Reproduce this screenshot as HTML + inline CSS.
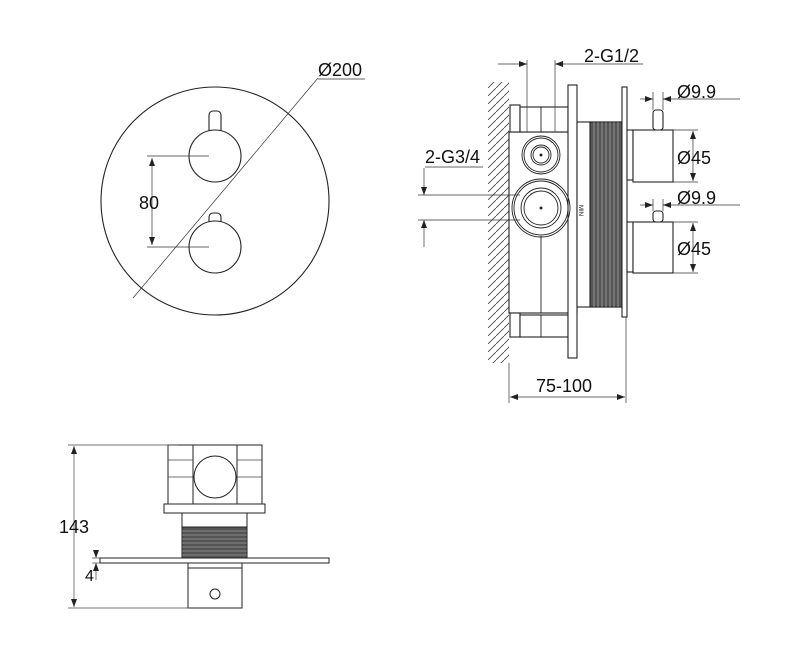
<!DOCTYPE html>
<html><head><style>body{margin:0;background:#fff}svg{display:block}text{font-family:"Liberation Sans",Arial,sans-serif;fill:#111}</style></head><body>
<svg width="800" height="650" viewBox="0 0 800 650" xmlns="http://www.w3.org/2000/svg">
<defs>
<pattern id="h" width="8" height="8" patternUnits="userSpaceOnUse"><path d="M0 8 L8 0" stroke="#444" stroke-width="0.8"/></pattern>
<marker id="a" markerWidth="8" markerHeight="6" refX="8" refY="3" orient="auto-start-reverse" markerUnits="userSpaceOnUse"><path d="M0 0 L8 3 L0 6z" fill="#222"/></marker>
</defs>
<g fill="none" stroke="#222" stroke-width="1.1">
<circle cx="215" cy="201" r="114"/>
<rect x="209" y="111" width="12" height="28" rx="4"/>
<circle cx="215" cy="156" r="26" fill="#fff"/>
<rect x="209" y="213" width="12" height="12" rx="4"/>
<circle cx="215" cy="247" r="26" fill="#fff"/>
</g>
<g stroke="#333" stroke-width="0.7" fill="none">
<line x1="147" y1="156" x2="209" y2="156"/><line x1="147" y1="247" x2="209" y2="247"/>
<line x1="152" y1="158" x2="152" y2="245" marker-start="url(#a)" marker-end="url(#a)"/>
<line x1="133" y1="298" x2="318" y2="78"/><line x1="318" y1="79" x2="365" y2="79"/>
</g>
<text x="139" y="209" font-size="18">80</text>
<text x="318" y="76" font-size="18">Ø200</text>

<rect x="488" y="82" width="21" height="281" fill="url(#h)"/>
<g fill="#fff" stroke="#222" stroke-width="1.1">
<rect x="509" y="132" width="68" height="181"/>
<rect x="510" y="105" width="10" height="27"/>
<rect x="520" y="107" width="48" height="25"/>
<rect x="510" y="313" width="10" height="24"/>
<rect x="520" y="315" width="48" height="22"/>
<rect x="568" y="85" width="9" height="273"/>
<rect x="577" y="122" width="46" height="185"/>
<rect x="590" y="122" width="33" height="185" fill="#555"/>
<rect x="622" y="87" width="5" height="230"/>
<rect x="627" y="130" width="6" height="50"/>
<rect x="633" y="130" width="40" height="52"/>
<rect x="653" y="110" width="10" height="20" rx="3"/>
<rect x="627" y="222" width="6" height="50"/>
<rect x="633" y="222" width="40" height="51"/>
<rect x="653" y="211" width="10" height="11" rx="3"/>
</g>
<g stroke="#bbb" stroke-width="0.6">
<line x1="594" y1="122" x2="594" y2="307"/><line x1="598" y1="122" x2="598" y2="307"/><line x1="602" y1="122" x2="602" y2="307"/><line x1="606" y1="122" x2="606" y2="307"/><line x1="610" y1="122" x2="610" y2="307"/><line x1="614" y1="122" x2="614" y2="307"/><line x1="618" y1="122" x2="618" y2="307"/>
</g>
<g fill="none" stroke="#222" stroke-width="0.9">
<line x1="541" y1="107" x2="541" y2="132"/><line x1="541" y1="315" x2="541" y2="337"/>
<line x1="541" y1="236" x2="541" y2="313"/>
<circle cx="541" cy="155" r="19"/><circle cx="541" cy="155" r="17"/><circle cx="541" cy="155" r="10"/><circle cx="541" cy="155" r="8"/>
<circle cx="541" cy="208" r="29"/><circle cx="541" cy="208" r="27"/><circle cx="541" cy="208" r="20"/><circle cx="541" cy="208" r="17"/>
<circle cx="541" cy="155" r="1" fill="#222"/><circle cx="541" cy="208" r="1" fill="#222"/>
</g>
<text x="0" y="0" font-size="6" transform="translate(579,205) rotate(90)">MIN</text>
<g stroke="#333" stroke-width="0.7" fill="none">
<line x1="527" y1="60" x2="527" y2="132"/><line x1="555" y1="60" x2="555" y2="132"/>
<line x1="498" y1="64" x2="527" y2="64" marker-end="url(#a)"/><line x1="643" y1="64" x2="555" y2="64" marker-end="url(#a)"/>
<line x1="418" y1="195" x2="520" y2="195"/><line x1="418" y1="220" x2="520" y2="220"/>
<line x1="425" y1="167" x2="483" y2="167"/>
<line x1="424" y1="168" x2="424" y2="195" marker-end="url(#a)"/><line x1="424" y1="247" x2="424" y2="220" marker-end="url(#a)"/>
<line x1="653" y1="92" x2="653" y2="110"/><line x1="663" y1="92" x2="663" y2="110"/>
<line x1="640" y1="99" x2="653" y2="99" marker-end="url(#a)"/><line x1="740" y1="99" x2="663" y2="99" marker-end="url(#a)"/>
<line x1="653" y1="199" x2="653" y2="211"/><line x1="663" y1="199" x2="663" y2="211"/>
<line x1="640" y1="205" x2="653" y2="205" marker-end="url(#a)"/><line x1="740" y1="205" x2="663" y2="205" marker-end="url(#a)"/>
<line x1="673" y1="130" x2="698" y2="130"/><line x1="673" y1="182" x2="698" y2="182"/>
<line x1="693" y1="131" x2="693" y2="181" marker-start="url(#a)" marker-end="url(#a)"/>
<line x1="673" y1="222" x2="698" y2="222"/><line x1="673" y1="273" x2="698" y2="273"/>
<line x1="693" y1="223" x2="693" y2="272" marker-start="url(#a)" marker-end="url(#a)"/>
<line x1="509" y1="363" x2="509" y2="403"/><line x1="626" y1="317" x2="626" y2="403"/>
<line x1="510" y1="397" x2="625" y2="397" marker-start="url(#a)" marker-end="url(#a)"/>
</g>
<text x="584" y="62" font-size="18">2-G1/2</text>
<text x="425" y="163" font-size="18">2-G3/4</text>
<text x="677" y="98" font-size="18">Ø9.9</text>
<text x="677" y="164" font-size="18">Ø45</text>
<text x="677" y="204" font-size="18">Ø9.9</text>
<text x="677" y="255" font-size="18">Ø45</text>
<text x="536" y="392" font-size="18">75-100</text>

<g fill="#fff" stroke="#222" stroke-width="1">
<rect x="164" y="504" width="101" height="9"/>
<rect x="168" y="445" width="25" height="59"/>
<rect x="237" y="445" width="25" height="59"/>
<rect x="193" y="445" width="44" height="59"/>
<circle cx="215" cy="477" r="21"/>
<rect x="182" y="513" width="65" height="45"/>
<rect x="182" y="527" width="65" height="31" fill="#555"/>
<rect x="100" y="558" width="229" height="5"/>
<rect x="188" y="563" width="54" height="5"/>
<rect x="188" y="568" width="54" height="40"/>
<circle cx="215" cy="594" r="5"/>
</g>
<g stroke="#bbb" stroke-width="0.6">
<line x1="182" y1="531" x2="247" y2="531"/><line x1="182" y1="535" x2="247" y2="535"/><line x1="182" y1="539" x2="247" y2="539"/><line x1="182" y1="543" x2="247" y2="543"/><line x1="182" y1="547" x2="247" y2="547"/><line x1="182" y1="551" x2="247" y2="551"/><line x1="182" y1="555" x2="247" y2="555"/>
</g>
<g stroke="#444" stroke-width="0.7" fill="none">
<line x1="168" y1="460" x2="193" y2="460"/><line x1="237" y1="460" x2="262" y2="460"/>
<line x1="168" y1="477" x2="193" y2="477"/><line x1="237" y1="477" x2="262" y2="477"/>
<line x1="68" y1="445" x2="178" y2="445"/><line x1="68" y1="608" x2="190" y2="608"/>
<line x1="74" y1="446" x2="74" y2="607" marker-start="url(#a)" marker-end="url(#a)"/>
<line x1="92" y1="558" x2="100" y2="558"/><line x1="92" y1="563" x2="100" y2="563"/>
<line x1="96" y1="550" x2="96" y2="558" marker-end="url(#a)"/><line x1="96" y1="580" x2="96" y2="563" marker-end="url(#a)"/>
</g>
<text x="59" y="533" font-size="18">143</text>
<text x="85" y="581" font-size="16">4</text>
</svg>
</body></html>
